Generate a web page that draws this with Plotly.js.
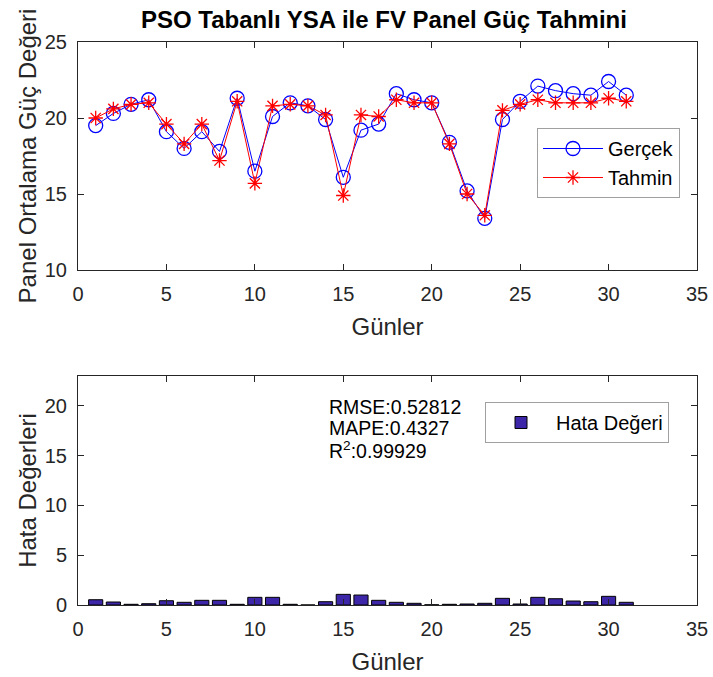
<!DOCTYPE html>
<html>
<head>
<meta charset="utf-8">
<script src="https://cdn.plot.ly/plotly-3.0.1.min.js"></script>
<style>html,body{margin:0;padding:0;background:#fff;}#chart{width:713px;height:677px;}</style>
</head>
<body>
<div id="chart"></div>
<script>
const gunler = [1,2,3,4,5,6,7,8,9,10,11,12,13,14,15,16,17,18,19,20,21,22,23,24,25,26,27,28,29,30,31];
const gercek = [19.5,20.3,20.9,21.2,19.1,18.0,19.1,17.8,21.3,16.5,20.1,21.0,20.8,19.9,16.1,19.2,19.6,21.6,21.2,21.0,18.4,15.2,13.4,19.9,21.1,22.1,21.8,21.6,21.5,22.4,21.5];
const tahmin = [20.0,20.6,20.9,21.0,19.6,18.3,19.6,17.2,21.1,15.7,20.8,20.9,20.8,20.2,14.9,20.2,20.1,21.2,21.0,21.0,18.3,15.0,13.6,20.5,20.9,21.2,21.0,21.0,21.0,21.3,21.1];
const hata = [0.53,0.30,0.07,0.13,0.43,0.27,0.47,0.47,0.07,0.77,0.77,0.07,0.0,0.33,1.07,1.0,0.47,0.27,0.17,0.02,0.07,0.10,0.17,0.67,0.10,0.77,0.63,0.40,0.33,0.87,0.27];
const xTicks = [0,5,10,15,20,25,30,35];
const yTicksTop = [10,15,20,25];
const yTicksBottom = [0,5,10,15,20];
const metricLines = ["RMSE:0.52812", "MAPE:0.4327", "R<sup>2</sup>:0.99929"];

const FONT = '"Liberation Sans", Arial, Helvetica, sans-serif';
const AX = '#262626';

const traces = [
  {x: gunler, y: gercek, type: 'scatter', mode: 'lines+markers', name: 'Gerçek',
   xaxis: 'x', yaxis: 'y', legend: 'legend',
   line: {color: '#0000ff', width: 1},
   marker: {symbol: 'circle-open', size: 14, color: '#0000ff', line: {width: 1.3, color: '#0000ff'}}},
  {x: gunler, y: tahmin, type: 'scatter', mode: 'lines+markers', name: 'Tahmin',
   xaxis: 'x', yaxis: 'y', legend: 'legend',
   line: {color: '#ff0000', width: 1},
   marker: {symbol: 'asterisk-open', size: 12, color: '#ff0000', line: {width: 1.3, color: '#ff0000'}}},
  {x: gunler, y: hata, type: 'bar', name: 'Hata Değeri', width: 0.8,
   xaxis: 'x2', yaxis: 'y2', legend: 'legend2',
   marker: {color: '#3E26A8', line: {color: '#000000', width: 1}}}
];

function xAxis(anchor) {
  return {
    domain: [78/713, 697/713], range: [0, 35], tickvals: xTicks,
    ticks: 'inside', ticklen: 6, tickcolor: AX, tickwidth: 1,
    showline: true, linecolor: AX, linewidth: 1, mirror: 'ticks',
    showgrid: false, zeroline: false, anchor: anchor,
    tickfont: {family: FONT, size: 20, color: AX},
    title: {text: 'Günler', font: {family: FONT, size: 24, color: AX}, standoff: 14},
    automargin: false, ticklabelstandoff: 6
  };
}
function yAxis(domain, range, ticks, text, anchor) {
  return {
    domain: domain, range: range, tickvals: ticks,
    ticks: 'inside', ticklen: 6, tickcolor: AX, tickwidth: 1,
    showline: true, linecolor: AX, linewidth: 1, mirror: 'ticks',
    showgrid: false, zeroline: false, anchor: anchor,
    tickfont: {family: FONT, size: 20, color: AX},
    title: {text: text, font: {family: FONT, size: 24, color: AX}, standoff: 1},
    automargin: false, ticklabelstandoff: 6
  };
}

const annotations = metricLines.map((t, i) => ({
  text: t, xref: 'x2', yref: 'paper', x: 14.1, y: 1 - [407, 428, 450][i]/677,
  xanchor: 'left', yanchor: 'middle', align: 'left', showarrow: false,
  font: {family: FONT, size: 19.5, color: '#000000'}
}));

const layout = {
  width: 713, height: 677,
  margin: {l: 0, r: 0, t: 0, b: 0},
  paper_bgcolor: '#ffffff', plot_bgcolor: '#ffffff',
  font: {family: FONT, color: AX},
  showlegend: true,
  title: {text: '<b>PSO Tabanlı YSA ile FV Panel Güç Tahmini</b>',
          font: {family: FONT, size: 24, color: '#000000'},
          x: 0.5385, xanchor: 'center', y: 1 - 20/677, yanchor: 'middle', xref: 'paper', yref: 'paper'},
  xaxis: xAxis('y'),
  yaxis: yAxis([1 - 270/677, 1 - 42/677], [10, 25], yTicksTop, 'Panel Ortalama Güç Değeri', 'x'),
  xaxis2: xAxis('y2'),
  yaxis2: yAxis([1 - 605/677, 1 - 376/677], [0, 23], yTicksBottom, 'Hata Değerleri', 'x2'),
  legend: {x: 537/713, y: 1 - 128/677, xanchor: 'left', yanchor: 'top',
           bgcolor: '#ffffff', bordercolor: '#a0a0a0', borderwidth: 1,
           font: {family: FONT, size: 20, color: '#000000'}, itemwidth: 60,
           tracegroupgap: 0},
  legend2: {x: 485/713, y: 1 - 402/677, xanchor: 'left', yanchor: 'top',
           bgcolor: '#ffffff', bordercolor: '#a0a0a0', borderwidth: 1,
           font: {family: FONT, size: 20, color: '#000000'}, itemwidth: 60},
  annotations: annotations,
  bargap: 0.2
};

Plotly.newPlot('chart', traces, layout, {displayModeBar: false, staticPlot: true});
</script>
</body>
</html>
